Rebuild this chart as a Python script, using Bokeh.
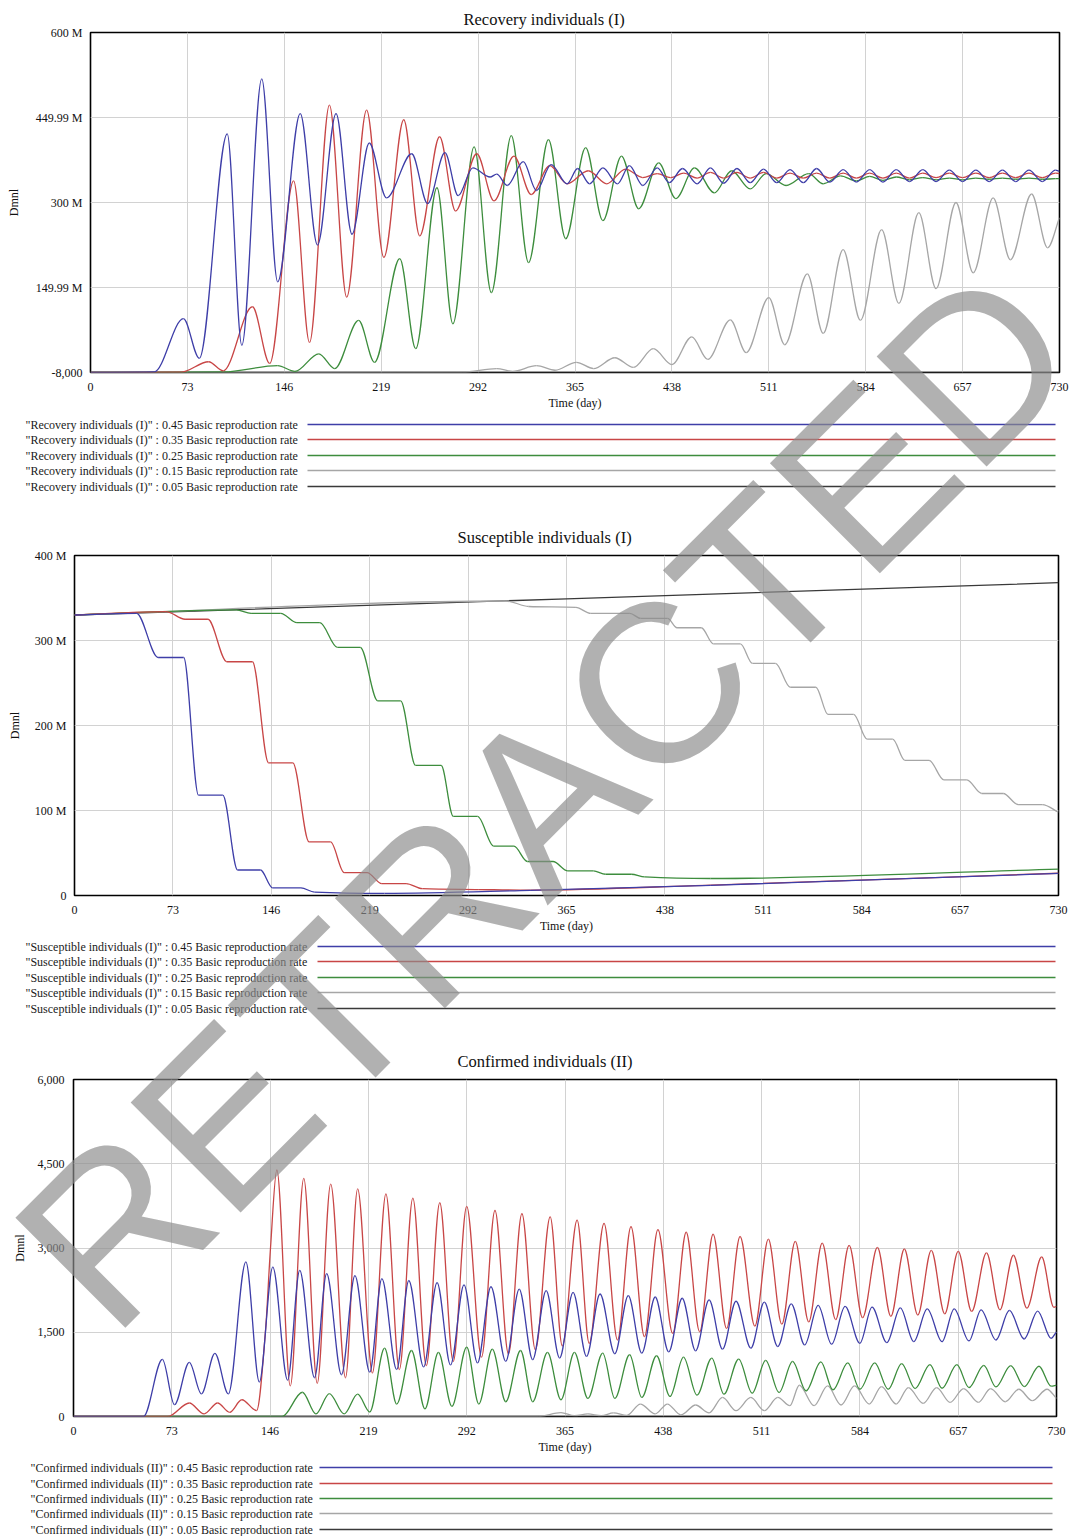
import numpy as np
from bokeh.plotting import figure
from bokeh.layouts import column
from bokeh.models import ColumnDataSource, FixedTicker, Range1d, Div
from bokeh.core.properties import value
from bokeh.embed import file_html
from bokeh.resources import INLINE

# ---------------------------------------------------------------- data
DAY_TICKS = [0, 73, 146, 219, 292, 365, 438, 511, 584, 657, 730]
RATES = ["0.45", "0.35", "0.25", "0.15", "0.05"]

# Recovery individuals (I), in millions
REC_045_DAY = [0, 48, 70, 82, 103, 114, 129, 141, 158, 171, 185, 197, 210, 223, 242, 254, 267, 277, 288, 301,
               306, 314, 326, 336, 347, 359, 367, 376, 386, 397, 406, 416, 427, 436, 446, 457, 467, 477, 487, 497,
               507, 517, 527, 537, 547, 557, 567, 577, 587, 597, 607, 617, 627, 637, 647, 657, 667, 677, 687, 697,
               707, 717, 727, 730]
REC_045_VAL = [0, 1, 95, 25, 421, 48, 518, 160, 457, 225, 457, 244, 405, 308, 386, 298, 388, 312, 361, 345,
               350, 330, 372, 321, 367, 333, 360, 333, 361, 333, 365, 330, 361, 335, 360, 333, 361, 334, 360, 335,
               359, 335, 358, 335, 360, 336, 358, 336, 358, 336, 358, 337, 358, 337, 357, 337, 357, 337, 357, 337,
               357, 337, 357, 355]
REC_035_DAY = [0, 68, 89, 100, 122, 135, 153, 165, 180, 193, 208, 221, 236, 248, 263, 275, 291, 304, 319, 332,
               346, 359, 375, 389, 403, 416, 427, 437, 447, 457, 467, 477, 487, 497, 507, 517, 527, 537, 547, 557,
               567, 577, 587, 597, 607, 617, 627, 637, 647, 657, 667, 677, 687, 697, 707, 717, 727, 730]
REC_035_VAL = [0, 0.5, 19, 3, 116, 16, 338, 53, 472, 133, 463, 203, 446, 241, 416, 285, 386, 303, 382, 314,
               365, 333, 356, 333, 359, 344, 351, 344, 352, 343, 353, 343, 353, 343, 353, 343, 352, 343, 352, 343,
               352, 343, 352, 343, 352, 343, 352, 344, 352, 344, 352, 344, 352, 344, 352, 344, 352, 351]
REC_025_DAY = [0, 100, 141, 154, 172, 184, 202, 214, 233, 245, 261, 273, 289, 302, 317, 330, 345, 358, 373, 386,
               400, 413, 428, 441, 455, 470, 483, 497, 509, 524, 541, 552, 565, 577, 587, 597, 607, 617, 627, 637,
               647, 657, 667, 677, 687, 697, 707, 717, 727, 730]
REC_025_VAL = [0, 1, 12, 2, 33, 7, 92, 18, 201, 42, 326, 86, 398, 141, 418, 194, 411, 236, 397, 268,
               382, 289, 370, 307, 361, 317, 356, 324, 351, 330, 351, 333, 347, 338, 346, 339, 345, 340, 344, 340,
               343, 340, 343, 341, 343, 341, 343, 341, 342, 342]
REC_015_DAY = [0, 280, 306, 318, 336, 350, 366, 379, 395, 409, 424, 438, 453, 465, 482, 494, 511, 523, 540, 552,
               567, 580, 596, 609, 624, 637, 652, 665, 680, 693, 709, 721, 730]
REC_015_VAL = [0, 0.5, 7, 2, 12, 4, 18, 7, 26, 9, 42, 14, 63, 23, 93, 35, 132, 49, 174, 69,
               217, 92, 252, 122, 282, 148, 300, 176, 308, 199, 315, 220, 273]
REC_005_DAY = [0, 730]
REC_005_VAL = [0, 0]

REC_TICKS = [-0.008, 149.994, 299.996, 449.998, 600.0]
REC_TICK_LABELS = ["-8,000", "149.99 M", "300 M", "449.99 M", "600 M"]

# Susceptible individuals (I), in millions
SUS_045_DAY = [0, 46, 62, 81, 92, 110, 121, 138, 147, 168, 178, 230, 338, 472, 730]
SUS_045_VAL = [330, 332, 280, 280, 118, 118, 30, 30, 9, 9, 4, 2.5, 6, 12, 26]
SUS_035_DAY = [0, 68, 82, 99, 113, 132, 144, 162, 174, 190, 200, 217, 228, 246, 258, 300, 338, 472, 730]
SUS_035_VAL = [330, 334, 325, 325, 275, 275, 156, 156, 63, 63, 27, 27, 14, 14, 8, 7, 6.3, 12.2, 26.2]
SUS_025_DAY = [0, 120, 131, 153, 165, 182, 195, 212, 225, 242, 253, 272, 281, 299, 311, 326, 336, 355, 366, 385,
               394, 413, 423, 472, 730]
SUS_025_VAL = [330, 336, 332, 332, 321, 321, 292, 292, 229, 229, 153, 153, 93, 93, 58, 58, 40, 40, 29, 29,
               25, 25, 22, 20, 31]
SUS_015_DAY = [0, 320, 337, 372, 383, 412, 420, 440, 447, 465, 474, 494, 503, 520, 531, 550, 559, 578, 588, 607,
               616, 634, 645, 662, 673, 689, 700, 718, 730]
SUS_015_VAL = [330, 346.5, 340, 339, 332, 332, 326, 326, 315, 315, 296, 296, 273, 273, 245, 245, 213, 213, 184, 184,
               159, 159, 136, 136, 120, 120, 107, 107, 98]
SUS_005_DAY = [0, 730]
SUS_005_VAL = [330, 368]

SUS_TICKS = [0, 100, 200, 300, 400]
SUS_TICK_LABELS = ["0", "100 M", "200 M", "300 M", "400 M"]

# Confirmed individuals (II)
CON_045_DAY = [0, 52, 66, 75, 86, 95, 105, 115, 128, 138, 148, 159, 168, 179, 188, 199, 209, 220, 229, 240,
               249, 260, 270, 280, 290, 300, 310, 321, 331, 341, 351, 361, 371, 381, 391, 402, 412, 422, 432, 442,
               452, 462, 472, 482, 492, 503, 513, 523, 533, 543, 553, 563, 573, 584, 593, 604, 614, 624, 634, 645,
               654, 665, 674, 685, 695, 706, 716, 726, 730]
CON_045_VAL = [0, 0, 1017, 210, 965, 403, 1123, 403, 2754, 614, 2661, 649, 2602, 690, 2543, 743, 2508, 789, 2456, 836,
               2421, 883, 2385, 918, 2345, 953, 2310, 982, 2268, 1011, 2240, 1041, 2210, 1070, 2181, 1117, 2152, 1128,
               2128, 1150, 2105, 1170, 2075, 1198, 2052, 1216, 2035, 1245, 2005, 1275, 1977, 1286, 1959, 1303, 1947,
               1315, 1935, 1333, 1917, 1333, 1917, 1345, 1900, 1362, 1889, 1380, 1877, 1392, 1508]
CON_035_DAY = [0, 70, 86, 97, 107, 116, 125, 136, 142.5, 146.3, 151, 161, 171, 181, 191, 202, 211, 222, 232, 242,
               252, 262, 272, 282, 292, 303, 313, 323, 333, 343, 354, 363, 374, 383, 394, 404, 414, 424, 434, 445,
               455, 465, 475, 485, 495, 506, 516, 526, 536, 546, 556, 566, 576, 586, 597, 607, 617, 627, 637, 647,
               657, 667, 678, 688, 698, 708, 719, 728, 730]
CON_035_VAL = [0, 0, 240, 47, 240, 75, 298, 105, 1500, 3000, 4391, 544, 4239, 591, 4139, 690, 4052, 777, 3964, 836,
               3888, 907, 3806, 982, 3741, 1058, 3671, 1117, 3613, 1187, 3555, 1257, 3496, 1303, 3438, 1362, 3380,
               1421, 3327, 1479, 3280, 1508, 3245, 1566, 3205, 1608, 3157, 1643, 3117, 1684, 3087, 1724, 3047, 1759,
               3012, 1784, 2982, 1807, 2959, 1829, 2941, 1871, 2912, 1900, 2871, 1929, 2841, 1945, 1960]
CON_025_DAY = [0, 155, 170, 180, 190, 201, 211, 220, 231, 240, 251, 261, 271, 281, 292, 301, 311, 321, 332, 341,
               352, 362, 372, 382, 393, 402, 413, 422, 433, 443, 453, 463, 474, 483, 494, 504, 514, 524, 534, 544,
               555, 564, 575, 584, 595, 605, 615, 625, 636, 645, 656, 665, 676, 685, 696, 706, 717, 726, 730]
CON_025_VAL = [0, 0, 432, 47, 409, 47, 398, 80, 1216, 222, 1175, 135, 1140, 181, 1234, 222, 1198, 263, 1175, 263,
               1140, 298, 1140, 321, 1128, 321, 1099, 339, 1082, 357, 1058, 380, 1041, 397, 1023, 415, 1000, 427, 982,
               456, 971, 473, 953, 485, 953, 485, 941, 497, 924, 503, 924, 514, 912, 526, 906, 532, 895, 540, 560]
CON_015_DAY = [0, 345, 362, 372, 382, 392, 401, 411, 421, 432, 441, 451, 462, 472, 482, 492, 503, 513, 523, 532,
               539, 550, 560, 570, 580, 591, 600, 611, 620, 631, 641, 651, 661, 672, 681, 692, 702, 712, 723, 730]
CON_015_VAL = [0, 0, 70, 15, 45, 15, 64, 20, 222, 47, 222, 29, 205, 64, 339, 105, 339, 105, 339, 193,
               556, 193, 544, 205, 544, 222, 532, 222, 514, 234, 514, 251, 497, 251, 497, 263, 485, 281, 485, 321]
CON_005_DAY = [0, 730]
CON_005_VAL = [0, 0]

CON_TICKS = [0, 1500, 3000, 4500, 6000]
CON_TICK_LABELS = ["0", "1,500", "3,000", "4,500", "6,000"]

# ---------------------------------------------------------------- style
COLORS = ["#3e3ea8", "#c84646", "#3d8d3d", "#a6a6a6", "#3a3a3a"]
SERIF = "Liberation Serif"
PAGE_W = 1077
PAGE_H = 1536
WM_TEXT = "RETRACTED"
WM_X, WM_Y = 540, 792      # centre of the stamp, page pixels
WM_ANGLE = 45
WM_SIZE = 226


def smooth_segments(xs, ys):
    """Monotone cubic (Fritsch-Carlson) pieces as bezier control points."""
    x = np.asarray(xs, float)
    y = np.asarray(ys, float)
    h = np.diff(x)
    d = np.diff(y) / h
    m = np.zeros_like(y)
    m[0] = d[0]
    m[-1] = d[-1]
    for k in range(1, len(x) - 1):
        if d[k - 1] * d[k] > 0:
            w1 = 2 * h[k] + h[k - 1]
            w2 = h[k] + 2 * h[k - 1]
            m[k] = (w1 + w2) / (w1 / d[k - 1] + w2 / d[k])
    return dict(x0=x[:-1], y0=y[:-1], x1=x[1:], y1=y[1:],
                cx0=x[:-1] + h / 3, cy0=y[:-1] + m[:-1] * h / 3,
                cx1=x[1:] - h / 3, cy1=y[1:] - m[1:] * h / 3)


def chart(title, series, y_lo, y_hi, ticks, tick_labels, box, title_left, title_gap, title_valign,
          ylab_pad, ylab_standoff):
    left, top, right, bottom, offset, height = box
    p = figure(width=PAGE_W, height=height,
               x_range=Range1d(0, 730), y_range=Range1d(y_lo, y_hi),
               min_border_left=left, min_border_right=PAGE_W - right,
               min_border_top=top - offset, min_border_bottom=offset + height - bottom,
               toolbar_location=None, output_backend="svg", title=title)
    p.frame_align = False
    p.title.text_font = SERIF
    p.title.text_font_size = "16.5px"
    p.title.text_font_style = "normal"
    p.title.text_color = "#111111"
    p.title.align = "left"
    p.title.offset = title_left - left
    p.title.standoff = title_gap
    p.title.vertical_align = title_valign

    p.outline_line_color = "black"
    p.outline_line_width = 1.6
    p.background_fill_color = "white"
    p.border_fill_color = "white"

    for ax in (p.xaxis[0], p.yaxis[0]):
        ax.axis_line_color = None
        ax.major_tick_line_color = None
        ax.minor_tick_line_color = None
        ax.major_label_text_font = SERIF
        ax.major_label_text_font_size = "12px"
        ax.major_label_text_color = "#111111"
        ax.axis_label_text_font = SERIF
        ax.axis_label_text_font_size = "12px"
        ax.axis_label_text_font_style = "normal"
        ax.axis_label_text_color = "#111111"

    p.xaxis.ticker = FixedTicker(ticks=DAY_TICKS)
    p.xaxis.axis_label = "Time (day)"
    p.xaxis.major_label_standoff = 4
    p.xaxis.axis_label_standoff = 2

    p.yaxis.ticker = FixedTicker(ticks=ticks)
    p.yaxis.major_label_overrides = {t: s for t, s in zip(ticks, tick_labels)}
    p.yaxis.axis_label = "Dmnl"
    p.yaxis.major_label_standoff = ylab_pad
    p.yaxis.axis_label_standoff = ylab_standoff

    p.xgrid.ticker = FixedTicker(ticks=DAY_TICKS)
    p.ygrid.ticker = FixedTicker(ticks=ticks)
    for g in (p.xgrid[0], p.ygrid[0]):
        g.grid_line_color = "#d2d2d2"
        g.grid_line_width = 1

    # lower reproduction rates first so the 0.45 curve ends up on top
    for (days, vals), color in reversed(list(zip(series, COLORS))):
        src = ColumnDataSource(smooth_segments(days, vals))
        p.bezier(x0="x0", y0="y0", x1="x1", y1="y1", cx0="cx0", cy0="cy0", cx1="cx1", cy1="cy1",
                 source=src, line_color=color, line_width=1.3)
    return p


def legend(name, height, text_x, line_x0, line_x1, rows):
    p = figure(width=PAGE_W, height=height, x_range=Range1d(0, PAGE_W), y_range=Range1d(height, 0),
               min_border=0, x_axis_location=None, y_axis_location=None,
               toolbar_location=None, output_backend="svg")
    p.frame_align = False
    p.grid.visible = False
    p.outline_line_color = None
    p.background_fill_color = "white"
    p.border_fill_color = "white"
    texts = ['"%s" : %s Basic reproduction rate' % (name, r) for r in RATES]
    src = ColumnDataSource(dict(x=[text_x] * len(RATES), y=rows, text=texts))
    p.text(x="x", y="y", text="text", source=src, text_font=value(SERIF), text_font_size="12px",
           text_baseline="middle", text_align="left", text_color="#1a1a1a")
    p.segment(x0=[line_x0] * len(RATES), y0=rows, x1=[line_x1] * len(RATES), y1=rows,
              line_color=COLORS, line_width=1.3)
    return p


rec = [(REC_045_DAY, REC_045_VAL), (REC_035_DAY, REC_035_VAL), (REC_025_DAY, REC_025_VAL),
       (REC_015_DAY, REC_015_VAL), (REC_005_DAY, REC_005_VAL)]
sus = [(SUS_045_DAY, SUS_045_VAL), (SUS_035_DAY, SUS_035_VAL), (SUS_025_DAY, SUS_025_VAL),
       (SUS_015_DAY, SUS_015_VAL), (SUS_005_DAY, SUS_005_VAL)]
con = [(CON_045_DAY, CON_045_VAL), (CON_035_DAY, CON_035_VAL), (CON_025_DAY, CON_025_VAL),
       (CON_015_DAY, CON_015_VAL), (CON_005_DAY, CON_005_VAL)]

# box = frame left, top, right, bottom, canvas top, canvas height (page pixels)
p1 = chart("Recovery individuals (I)", rec, -0.008, 600.0, REC_TICKS, REC_TICK_LABELS,
           (90, 32, 1059, 377, 0, 412), 463, 4, "top", 2, 12)
l1 = legend("Recovery individuals (I)", 88, 25, 307, 1055, [12, 27, 43, 58, 74])
p2 = chart("Susceptible individuals (I)", sus, 0, 400, SUS_TICKS, SUS_TICK_LABELS,
           (74, 555, 1058, 898, 500, 435), 457, 18, "bottom", 2, 10)
l2 = legend("Susceptible individuals (I)", 87, 25, 317, 1055, [11, 26, 42, 57, 73])
p3 = chart("Confirmed individuals (II)", con, 0, 6000, CON_TICKS, CON_TICK_LABELS,
           (73, 1079, 1056, 1421, 1022, 434), 457, 18, "bottom", 3, 8)
l3 = legend("Confirmed individuals (II)", 80, 30, 319, 1052, [11, 27, 42, 57, 73])

# diagonal stamp laid over the whole page
stamp_svg = (
    '<svg xmlns="http://www.w3.org/2000/svg" width="%d" height="%d" '
    'style="position:absolute;left:0;top:0;overflow:visible">'
    '<text x="%d" y="%d" transform="rotate(%d %d %d)" font-family="Liberation Sans, Arial, sans-serif" '
    'font-size="%d" fill="#8c8c8c" fill-opacity="0.68" text-anchor="middle" '
    'dominant-baseline="central">%s</text></svg>'
    % (PAGE_W, PAGE_H, WM_X, WM_Y, -WM_ANGLE, WM_X, WM_Y, WM_SIZE, WM_TEXT)
)
stamp = Div(text=stamp_svg, width=PAGE_W, height=PAGE_H,
            styles={"position": "absolute", "left": "0px", "top": "0px",
                    "z-index": "10", "pointer-events": "none"})

page = column(p1, l1, p2, l2, p3, l3, stamp, spacing=0)

with open("out.html", "w") as f:
    f.write(file_html(page, INLINE))
